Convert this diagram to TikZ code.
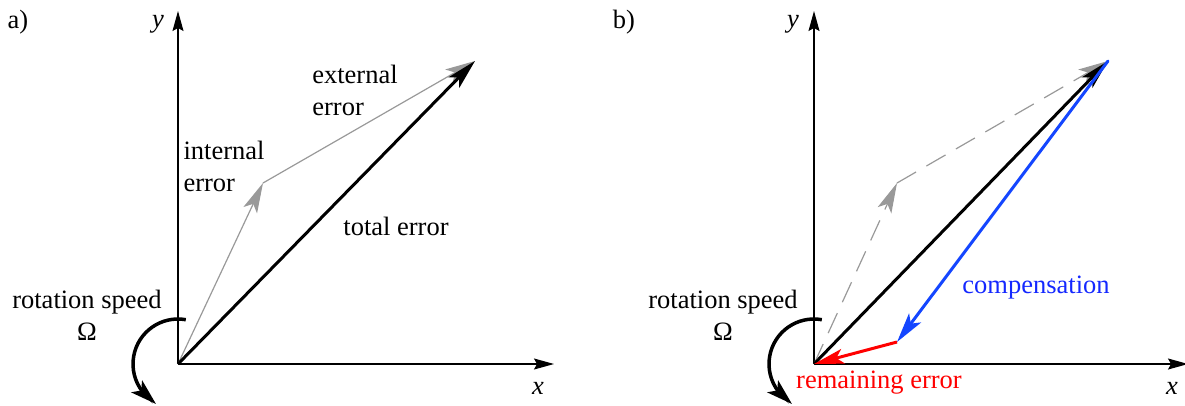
\documentclass[tikz,border=0pt]{standalone}
\usepackage{fontspec}
\setmainfont{Liberation Serif}
\newfontfamily\tms{Liberation Serif}
\usetikzlibrary{arrows.meta}
\begin{document}
\begin{tikzpicture}[x=1pt,y=-1pt,
  lbl/.style={font=\tms\fontsize{26.5}{32}\selectfont, inner sep=0pt},
  axis/.style={line width=1.3pt, -{Stealth[length=20pt,width=11pt,inset=3pt]}},
  big/.style={-{Stealth[length=30pt,width=15pt,inset=7pt]}},
  tot/.style={big, line width=3pt, black},
  part/.style={big, line width=1.2pt, gray!80},
  partd/.style={part, dash pattern=on 22pt off 12pt},
  rot/.style={line width=3.5pt, -{Stealth[length=26pt,width=16pt,inset=6pt]}}
]
\useasboundingbox (0,0) rectangle (1185,405);
% ---------- panel a
\coordinate (Oa) at (178,364);
\coordinate (Ya) at (178,11);
\coordinate (Xa) at (554,364);
\coordinate (Ia) at (263,183);
\coordinate (Ea) at (475,61);
\coordinate (Ra) at (156,404);
\node[lbl] (la) at (18,22) {a)};
\draw[axis] (Oa) -- (Ya);
\draw[axis] (Oa) -- (Xa);
\node[lbl] (ya) at (158,24) {\textit{y}};
\node[lbl] (xa) at (538,388) {\textit{x}};
\draw[part] (Oa) -- (Ia);
\draw[part] (Ia) -- (Ea);
\draw[tot] (Oa) -- (Ea);
\node[lbl, align=left] (inta) at (224,166) {internal\\error};
\node[lbl, align=left] (exta) at (355,90) {external\\error};
\node[lbl] (tota) at (396,226) {total error};
\node[lbl, align=center] (rsa) at (87,315) {rotation speed\\Ω};
\draw[rot] ([shift={(-80:45)}]Oa) arc[start angle=-80, end angle=-218, radius=45] -- (Ra);
% ---------- panel b
\coordinate (Ob) at (814,364);
\coordinate (Yb) at (814,11);
\coordinate (Xb) at (1188,364);
\coordinate (Ib) at (897,183);
\coordinate (Eb) at (1108,61);
\coordinate (Cb) at (897,342);
\coordinate (Rb) at (792,404);
\node[lbl] (lb) at (624,22) {b)};
\draw[axis] (Ob) -- (Xb);
\draw[axis] (Ob) -- (Yb);
\node[lbl] (yb) at (793,24) {\textit{y}};
\node[lbl] (xb) at (1172,388) {\textit{x}};
\draw[partd] (Ob) -- (Ib);
\draw[partd] (Ib) -- (Eb);
\draw[tot] (Ob) -- (Eb);
\draw[big, line width=3pt, color={rgb,255:red,20;green,70;blue,255}, line cap=round] (Eb) -- (Cb);
\draw[big, line width=3pt, red] (Cb) -- (Ob);
\node[lbl, text={rgb,255:red,20;green,40;blue,255}] (comp) at (1036,288) {compensation};
\node[lbl, text=red] (rem) at (879,383) {remaining error};
\node[lbl, align=center] (rsb) at (723,315) {rotation speed\\Ω};
\draw[rot] ([shift={(-80:45)}]Ob) arc[start angle=-80, end angle=-218, radius=45] -- (Rb);
\end{tikzpicture}
\end{document}
